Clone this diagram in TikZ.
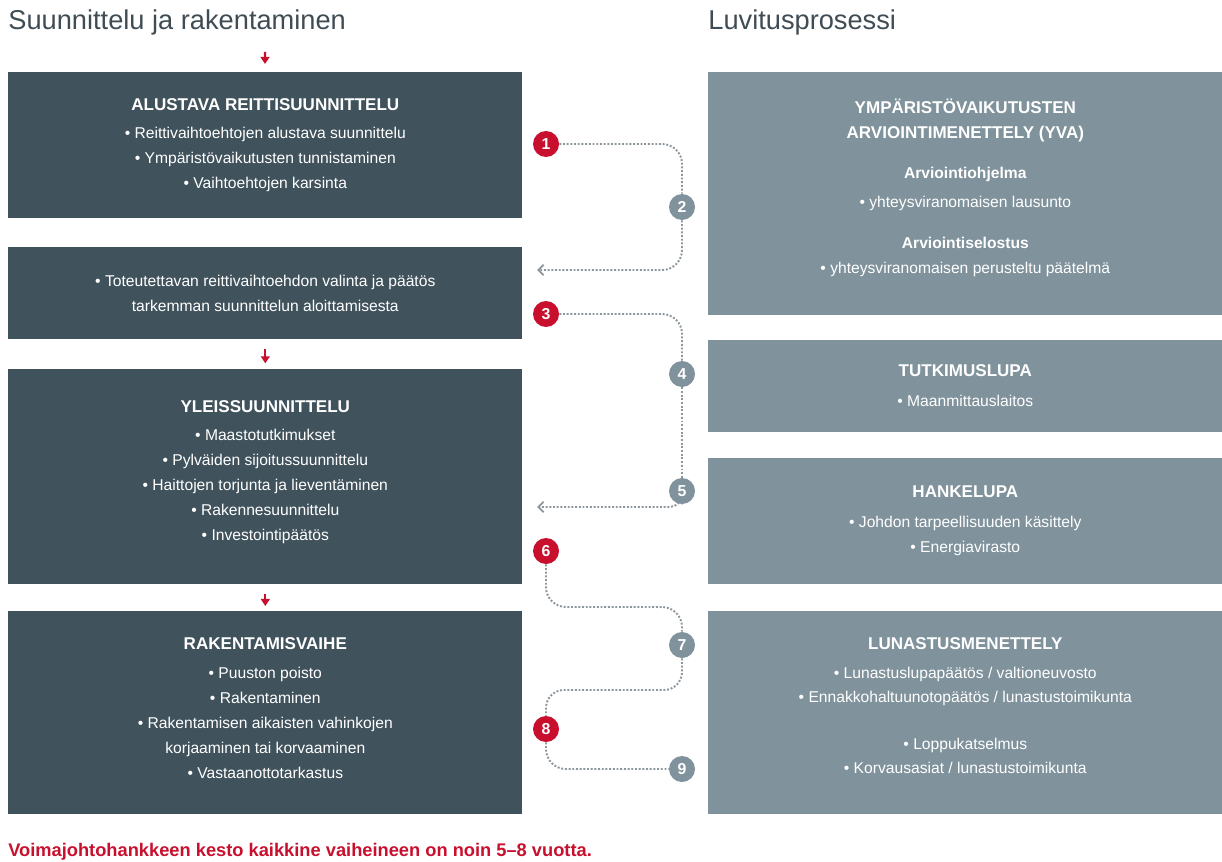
\documentclass[tikz,border=0pt]{standalone}
\usepackage{fontspec}
\setmainfont{Liberation Sans}
\usetikzlibrary{arrows.meta,positioning,calc,backgrounds}
\definecolor{SlateDark}{RGB}{64,82,92}
\definecolor{SlateLight}{RGB}{128,146,156}
\definecolor{FgRed}{RGB}{200,16,46}
\definecolor{TitleGrey}{RGB}{64,76,84}
\definecolor{DotGrey}{RGB}{140,150,157}
\newcommand{\boxhead}[1]{{\fontsize{9.7}{14.2}\selectfont\bfseries #1}}
\begin{document}
\begin{tikzpicture}[x=0.02cm,y=-0.02cm,>=Latex,every node/.style={font=\fontsize{8.9}{14.2}\selectfont,text=white}]
\tikzset{leftbox/.style={fill=SlateDark,minimum width=10.28cm,align=center,inner sep=0pt},
 rightbox/.style={leftbox,fill=SlateLight},
 num/.style={circle,minimum size=0.52cm,inner sep=0pt,font=\fontsize{9}{9}\selectfont\bfseries},
 numred/.style={num,fill=FgRed},numgrey/.style={num,fill=SlateLight},
 flow/.style={DotGrey,densely dotted,line width=1.1pt,rounded corners=0.4cm},
 stepdown/.style={FgRed,line width=1.3pt,-{Triangle[length=4pt,width=5pt]}},
 heading/.style={font=\fontsize{15.5}{18}\selectfont,text=TitleGrey,anchor=base west,inner sep=0pt}}
\useasboundingbox (0,0) rectangle (1222,861);
\node[heading] (tleft) at (8,30) {Suunnittelu ja rakentaminen};
\node[heading] (tright) at (708,30) {Luvitusprosessi};
\node[leftbox,minimum height=2.92cm,anchor=north west] (b1) at (8,72) {\boxhead{ALUSTAVA REITTISUUNNITTELU}\\[2pt] • Reittivaihtoehtojen alustava suunnittelu\\ • Ympäristövaikutusten tunnistaminen\\ • Vaihtoehtojen karsinta};
\node[leftbox,minimum height=1.84cm,below=0.56cm of b1] (b2) {• Toteutettavan reittivaihtoehdon valinta ja päätös\\ tarkemman suunnittelun aloittamisesta};
\node[leftbox,minimum height=4.3cm,below=0.58cm of b2] (b3) {\boxhead{YLEISSUUNNITTELU}\\[2pt] • Maastotutkimukset\\ • Pylväiden sijoitussuunnittelu\\ • Haittojen torjunta ja lieventäminen\\ • Rakennesuunnittelu\\ • Investointipäätös\\[-7.4pt]};
\node[leftbox,minimum height=4.06cm,below=0.54cm of b3] (b4) {\boxhead{RAKENTAMISVAIHE}\\[2pt] • Puuston poisto\\ • Rakentaminen\\ • Rakentamisen aikaisten vahinkojen\\ korjaaminen tai korvaaminen\\ • Vastaanottotarkastus\\[-8.6pt]};
\node[rightbox,minimum height=4.86cm,anchor=north west] (r1) at (708,72) {\boxhead{YMPÄRISTÖVAIKUTUSTEN}\\ \boxhead{ARVIOINTIMENETTELY (YVA)}\\[9pt] \textbf{Arviointiohjelma}\\[2pt] • yhteysviranomaisen lausunto\\[9pt] \textbf{Arviointiselostus}\\ • yhteysviranomaisen perusteltu päätelmä\\[-5.2pt]};
\node[rightbox,minimum height=1.84cm,below=0.48cm of r1] (r2) {\boxhead{TUTKIMUSLUPA}\\[3pt] • Maanmittauslaitos};
\node[rightbox,minimum height=2.52cm,below=0.5cm of r2] (r3) {\boxhead{HANKELUPA}\\[3pt] • Johdon tarpeellisuuden käsittely\\ • Energiavirasto};
\node[rightbox,minimum height=4.06cm,below=0.54cm of r3] (r4) {\boxhead{LUNASTUSMENETTELY}\\[2pt] • Lunastuslupapäätös / valtioneuvosto\\ • Ennakkohaltuunotopäätös / lunastustoimikunta\\[12pt] • Loppukatselmus\\ • Korvausasiat / lunastustoimikunta\\[-6.2pt]};
\node[numred] (n1) at (546,144) {1};
\node[numgrey] (n2) at (682,207) {2};
\node[numred] (n3) at (546,314) {3};
\node[numgrey] (n4) at (682,374) {4};
\node[numgrey] (n5) at (682,491) {5};
\node[numred] (n6) at (546,551) {6};
\node[numgrey] (n7) at (682,645) {7};
\node[numred] (n8) at (546,729) {8};
\node[numgrey] (n9) at (682,769) {9};
\coordinate (in2) at (537,270);
\coordinate (in5) at (537,507);
\coordinate (c67) at (614,607);
\coordinate (c78) at (614,690);
\coordinate (top) at (265,52);
\node[font=\fontsize{10.4}{12}\selectfont\bfseries,text=FgRed,anchor=base west,inner sep=0pt] (note) at (8,856) {Voimajohtohankkeen kesto kaikkine vaiheineen on noin 5–8 vuotta.};
\begin{pgfonlayer}{background}
\draw[flow](n1) -| (n2); \draw[flow,-{Straight Barb[length=3pt,width=6pt]}](n2) |- (in2);
\draw[flow](n3) -| (n4); \draw[flow](n4) -- (n5); \draw[flow,rounded corners=0.25cm,-{Straight Barb[length=3pt,width=6pt]}](n5) |- (in5);
\draw[flow](n6) |- (c67) -| (n7); \draw[flow,rounded corners=0.36cm](n7) |- (c78) -| (n8); \draw[flow](n8) |- (n9);
\end{pgfonlayer}
\draw[stepdown,shorten >=0.16cm](top) -- (b1);
\draw[stepdown,shorten <=0.2cm,shorten >=0.1cm](b2) -- (b3);
\draw[stepdown,shorten <=0.2cm,shorten >=0.1cm](b3) -- (b4);
\end{tikzpicture}
\end{document}
